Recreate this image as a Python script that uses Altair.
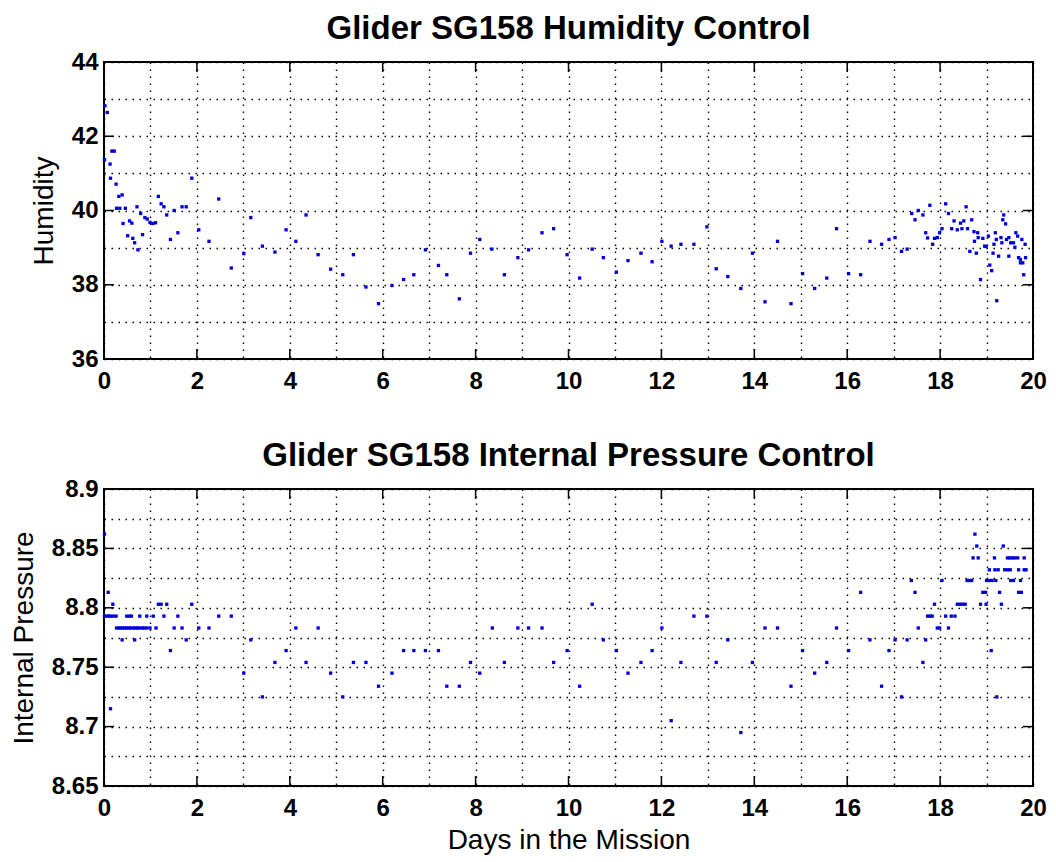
import json
import altair as alt
import pandas as pd

# ---------------- data ----------------
HUM_DAY = [0.02, 0.07, 0.01, 0.13, 0.17, 0.22, 0.14, 0.26, 0.32, 0.39, 0.27, 0.34, 0.46, 0.41,
           0.55, 0.60, 0.51, 0.62, 0.66, 0.73, 0.71, 0.79, 0.83, 0.88, 0.93, 0.99, 1.05, 1.11,
           1.17, 1.23, 1.29, 1.35, 1.43, 1.51, 1.59, 1.68, 1.77, 1.89, 2.04, 2.26, 2.47, 2.74,
           3.01, 3.16, 3.41, 3.68, 3.92, 4.13, 4.35, 4.61, 4.88, 5.14, 5.37, 5.64, 5.91, 6.20,
           6.45, 6.67, 6.92, 7.20, 7.38, 7.65, 7.89, 8.09, 8.35, 8.62, 8.91, 9.14, 9.43, 9.68,
           9.97, 10.24, 10.51, 10.75, 11.03, 11.28, 11.56, 11.80, 12.01, 12.21, 12.42, 12.70,
           12.98, 13.18, 13.43, 13.71, 13.96, 14.23, 14.50, 14.79, 15.04, 15.30, 15.56, 15.77,
           16.03, 16.29, 16.49, 16.74, 16.90, 17.03, 17.17, 17.29, 17.39, 17.46, 17.53, 17.63,
           17.69, 17.73, 17.78, 17.84, 17.88, 17.94, 17.99, 18.04, 18.12, 18.18, 18.25, 18.30,
           18.37, 18.44, 18.47, 18.51, 18.56, 18.59, 18.64, 18.68, 18.73, 18.74, 18.78, 18.81,
           18.82, 18.87, 18.92, 18.96, 18.99, 19.04, 19.07, 19.11, 19.14, 19.16, 19.19, 19.21,
           19.22, 19.26, 19.31, 19.33, 19.35, 19.37, 19.41, 19.43, 19.48, 19.48, 19.52, 19.58,
           19.61, 19.63, 19.67, 19.69, 19.73, 19.78, 19.73, 19.76, 19.80, 19.83, 19.84]
HUM_VAL = [42.82, 42.64, 41.37, 41.25, 41.60, 41.60, 40.87, 40.71, 40.38, 40.42, 40.06, 40.06, 40.06, 39.65,
           39.72, 39.66, 39.32, 39.25, 39.13, 38.94, 40.10, 39.92, 39.35, 39.81, 39.77, 39.68, 39.65, 39.67,
           40.38, 40.18, 40.10, 39.88, 39.22, 40.00, 39.40, 40.10, 40.10, 40.87, 39.48, 39.17, 40.31, 38.45,
           38.84, 39.81, 39.04, 38.88, 39.48, 39.17, 39.88, 38.81, 38.42, 38.27, 38.81, 37.94, 37.49, 37.98,
           38.14, 38.27, 38.94, 38.52, 38.27, 37.62, 38.85, 39.22, 38.96, 38.27, 38.73, 38.94, 39.40, 39.51,
           38.81, 38.18, 38.96, 38.73, 38.34, 38.65, 38.85, 38.62, 39.17, 39.04, 39.09, 39.09,
           39.56, 38.43, 38.22, 37.90, 38.85, 37.54, 39.17, 37.49, 38.30, 37.90, 38.18, 39.51,
           38.30, 38.27, 39.17, 39.09, 39.22, 39.27, 38.90, 38.96, 39.92, 39.75, 40.00, 39.88,
           39.40, 39.26, 40.14, 39.09, 39.25, 39.27, 39.40, 39.51, 40.18, 39.92, 39.51, 39.72,
           39.48, 39.66, 39.51, 39.72, 40.10, 39.51, 38.90, 39.75, 39.43, 39.17, 38.85, 39.40,
           39.27, 38.14, 39.25, 39.04, 39.03, 39.31, 38.53, 38.38, 38.85, 39.09, 39.40, 39.22,
           37.57, 38.77, 39.27, 39.13, 39.75, 39.88, 39.64, 39.22, 39.27, 38.77, 39.13, 39.13,
           39.01, 39.40, 39.31, 38.73, 38.59, 38.59, 38.68, 39.22, 38.27, 39.09, 38.73]

PRES_DAY = [0.01, 0.09, 0.14, 0.19,
            0.01, 0.06, 0.10, 0.14, 0.20, 0.26, 0.49, 0.55, 0.59, 0.77, 0.92, 1.06, 1.29, 1.59, 2.47, 2.74,
            0.27, 0.32, 0.36, 0.40, 0.44, 0.49, 0.53, 0.57, 0.63, 0.67, 0.72, 0.76, 0.82, 0.86, 0.92, 0.99, 1.12,
            1.51, 1.68, 2.04, 2.26, 4.13, 4.61, 8.36, 8.91, 9.14, 9.43,
            0.39, 0.66, 1.77, 3.16,
            1.17, 1.23, 1.35, 1.89,
            1.43, 3.92, 6.45, 6.67, 6.92, 7.20, 9.97,
            3.68, 4.35, 5.37, 5.64, 7.89, 8.62, 9.68,
            3.01, 4.88, 6.20, 8.09,
            5.91, 7.38, 7.65,
            3.41, 5.14,
            10.24, 10.51, 10.75, 11.03, 11.28, 11.56, 11.80, 12.01, 12.21, 12.42, 12.70, 12.98,
            13.18, 13.43, 13.71, 13.96, 14.23, 14.50, 14.79, 15.04, 15.30, 15.56, 15.77, 16.03,
            16.29, 16.49, 16.74, 16.90, 17.03, 17.17, 17.29, 17.38, 17.46, 17.53, 17.63, 17.69,
            17.73, 17.79, 17.83, 17.88, 17.94, 17.99, 18.04, 18.12, 18.24, 18.32, 18.18,
            18.37, 18.43, 18.48, 18.54, 18.58, 18.63, 18.68, 18.71, 18.82, 18.75, 18.79,
            18.87, 18.99, 18.92, 18.98, 19.00, 19.06, 19.12, 19.20, 19.06, 19.18, 19.25,
            19.10, 19.17, 19.22, 19.28, 19.32, 19.36, 19.39, 19.45, 19.51,
            19.45, 19.50, 19.55, 19.60, 19.67, 19.81, 19.52, 19.58, 19.73, 19.69, 19.81, 19.85,
            19.69, 19.75]
PRES_VAL = [8.862, 8.813, 8.715, 8.803,
            8.793, 8.793, 8.793, 8.793, 8.793, 8.793, 8.793, 8.793, 8.793, 8.793, 8.793, 8.793, 8.793, 8.793, 8.793, 8.793,
            8.783, 8.783, 8.783, 8.783, 8.783, 8.783, 8.783, 8.783, 8.783, 8.783, 8.783, 8.783, 8.783, 8.783, 8.783, 8.783, 8.783,
            8.783, 8.783, 8.783, 8.783, 8.783, 8.783, 8.783, 8.783, 8.783, 8.783,
            8.773, 8.773, 8.773, 8.773,
            8.803, 8.803, 8.803, 8.803,
            8.764, 8.764, 8.764, 8.764, 8.764, 8.764, 8.764,
            8.754, 8.754, 8.754, 8.754, 8.754, 8.754, 8.754,
            8.745, 8.745, 8.745, 8.745,
            8.734, 8.734, 8.734,
            8.725, 8.725,
            8.734, 8.803, 8.773, 8.764, 8.745, 8.754, 8.764, 8.783, 8.705, 8.754, 8.793, 8.793,
            8.754, 8.773, 8.695, 8.754, 8.783, 8.783, 8.734, 8.764, 8.745, 8.754, 8.783, 8.764,
            8.813, 8.773, 8.734, 8.764, 8.773, 8.725, 8.773, 8.823, 8.813, 8.783, 8.754, 8.773,
            8.793, 8.793, 8.793, 8.803, 8.783, 8.783, 8.823, 8.793, 8.793, 8.793, 8.783,
            8.803, 8.803, 8.803, 8.803, 8.823, 8.823, 8.823, 8.842, 8.842, 8.862, 8.852,
            8.803, 8.803, 8.813, 8.813, 8.823, 8.823, 8.823, 8.823, 8.832, 8.832, 8.832,
            8.764, 8.842, 8.725, 8.813, 8.803, 8.852, 8.832, 8.832, 8.832,
            8.842, 8.842, 8.842, 8.842, 8.842, 8.842, 8.823, 8.823, 8.823, 8.832, 8.832, 8.832,
            8.813, 8.813]

X_GRID = list(range(0, 21))
X_MAJOR = [0, 2, 4, 6, 8, 10, 12, 14, 16, 18, 20]
HUM_GRID = [36, 37, 38, 39, 40, 41, 42, 43, 44]
HUM_MAJOR = [36, 38, 40, 42, 44]
PRES_GRID = [8.65, 8.675, 8.7, 8.725, 8.75, 8.775, 8.8, 8.825, 8.85, 8.875, 8.9]
PRES_MAJOR = [8.65, 8.7, 8.75, 8.8, 8.85, 8.9]

TITLE_HUM = "Glider SG158 Humidity Control"
TITLE_PRES = "Glider SG158 Internal Pressure Control"
XLABEL = "Days in the Mission"
YLABEL_HUM = "Humidity"
YLABEL_PRES = "Internal Pressure"

# ---------------- styling ----------------
W, H = 929, 297
TICK = 10
FONT = "Liberation Sans"
BLUE = "#0000dd"


def label_expr(major):
    return f"indexof({json.dumps(major)}, datum.value) >= 0 ? format(datum.value, '~g') : ''"


def panel(days, vals, y_grid, y_major, title, ytitle, xtitle):
    df = pd.DataFrame({"day": days, "val": vals})
    xs = alt.Scale(domain=[0, 20], nice=False, zero=False)
    ys = alt.Scale(domain=[y_grid[0], y_grid[-1]], nice=False, zero=False)
    x_axis = alt.Axis(values=X_GRID, labelExpr=label_expr(X_MAJOR), title=xtitle)
    y_axis = alt.Axis(values=y_grid, labelExpr=label_expr(y_major), title=ytitle)
    X = alt.X("day:Q", scale=xs, axis=x_axis)
    Y = alt.Y("val:Q", scale=ys, axis=y_axis)

    pts = alt.Chart(df).mark_square(size=11, color=BLUE, opacity=1).encode(x=X, y=Y)
    xt = pd.DataFrame({"day": X_MAJOR})
    yt = pd.DataFrame({"val": y_major})
    rule = dict(color="black", strokeWidth=1.5)
    t_top = alt.Chart(xt).mark_rule(**rule).encode(x=X, y=alt.value(0), y2=alt.value(TICK))
    t_bot = alt.Chart(xt).mark_rule(**rule).encode(x=X, y=alt.value(H - TICK), y2=alt.value(H))
    t_left = alt.Chart(yt).mark_rule(**rule).encode(y=Y, x=alt.value(0), x2=alt.value(TICK))
    t_right = alt.Chart(yt).mark_rule(**rule).encode(y=Y, x=alt.value(W - TICK), x2=alt.value(W))

    return alt.layer(pts, t_top, t_bot, t_left, t_right).properties(
        width=W, height=H,
        title=alt.TitleParams(text=title),
    )


top = panel(HUM_DAY, HUM_VAL, HUM_GRID, HUM_MAJOR, TITLE_HUM, YLABEL_HUM, None)
bottom = panel(PRES_DAY, PRES_VAL, PRES_GRID, PRES_MAJOR, TITLE_PRES, YLABEL_PRES, XLABEL)

chart = (
    alt.vconcat(top, bottom, spacing=45)
    .properties(padding={"left": 1, "top": 4, "right": 0, "bottom": 0}, background="white")
    .configure_view(stroke="black", strokeWidth=2)
    .configure_axis(
        labelFont=FONT, labelFontSize=24, labelFontWeight="bold", labelColor="black",
        titleFont=FONT, titleFontSize=28, titleFontWeight="normal", titleColor="black",
        domain=False, ticks=False, tickSize=0, grid=True, gridColor="black",
        gridDash=[1.5, 5.5], gridWidth=1.4, gridOpacity=1, labelOverlap=False,
    )
    .configure_axisX(labelPadding=10, titlePadding=6, labelFlush=False)
    .configure_axisY(labelPadding=6, titlePadding=13)
    .configure_title(font=FONT, fontSize=33, fontWeight="bold", color="black",
                     anchor="middle", frame="group", offset=4)
)

chart.save("out.html", embed_options={"renderer": "svg", "actions": False})
